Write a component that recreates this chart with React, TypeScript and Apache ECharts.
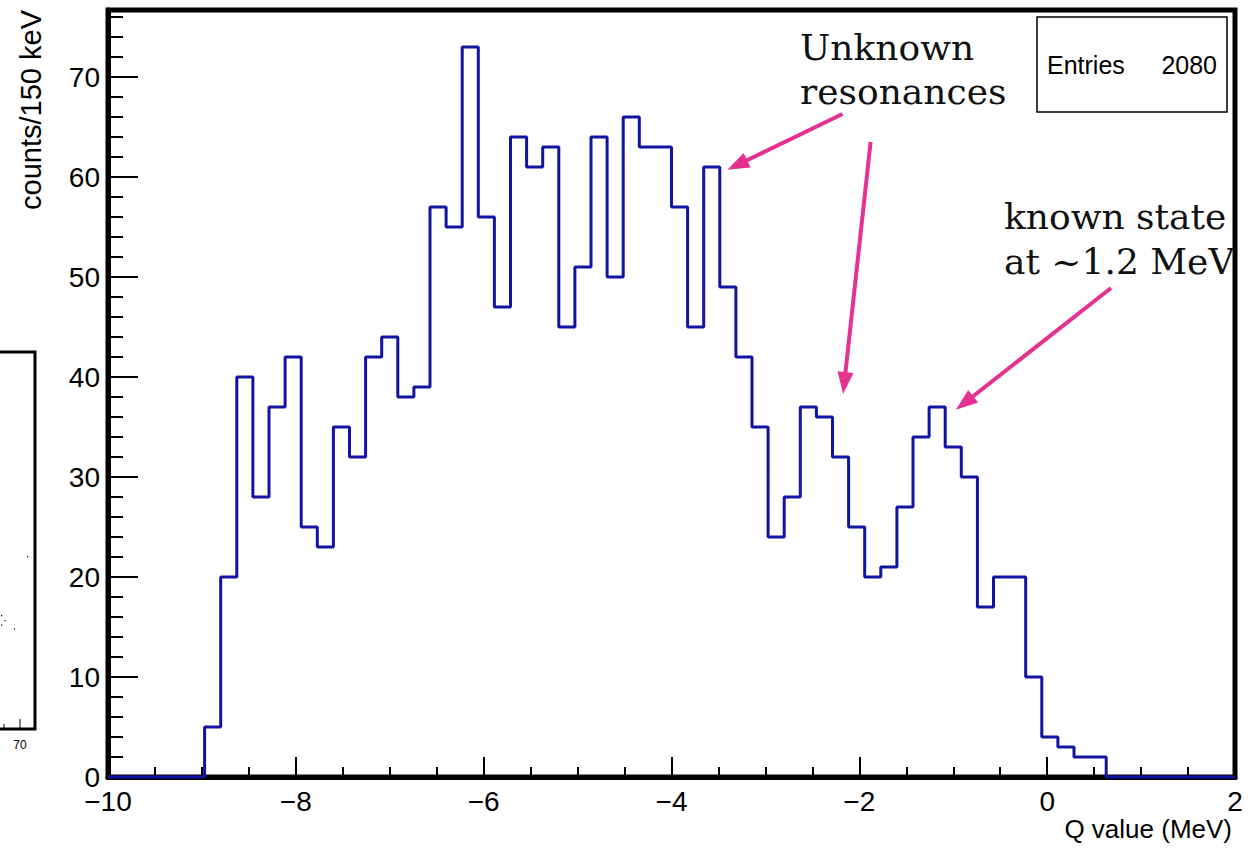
import React, { useEffect, useRef } from "react";
import * as echarts from "echarts";

// Histogram: 70 bins from -10 to 2 MeV
const X_MIN = -10;
const X_MAX = 2;
const N_BINS = 70;
const counts = [
  0, 0, 0, 0, 0, 0,
  5, 20, 40, 28, 37, 42, 25, 23, 35, 32, 42, 44, 38, 39,
  57, 55, 73, 56, 47, 64, 61, 63, 45, 51, 64, 50, 66, 63, 63, 57, 45, 61, 49, 42,
  35, 24, 28, 37, 36, 32, 25, 20, 21, 27, 34, 37, 33, 30, 17, 20, 20, 10, 4, 3, 2, 2,
  0, 0, 0, 0, 0, 0, 0, 0,
];
const entries = 2080;
const xTitle = "Q value (MeV)";
const yTitle = "counts/150 keV";

// annotation arrows in data coordinates: [tail, tip]
const arrows = [
  [[-2.18, 66.3], [-3.3, 61.2]],
  [[-1.88, 63.5], [-2.16, 39.4]],
  [[0.68, 48.9], [-0.88, 37.4]],
];

const MAGENTA = "#e5318f";
const FONT = "'Liberation Sans', Arial, Helvetica, sans-serif";
const SERIF = "'DejaVu Serif', serif";

export default function App() {
  const ref = useRef<HTMLDivElement>(null);
  useEffect(() => {
    if (!ref.current) return;
    const chart = echarts.init(ref.current, null, { renderer: "svg" });
    const binW = (X_MAX - X_MIN) / N_BINS;
    const pts: number[][] = counts.map((c, k) => [X_MIN + k * binW, c]);
    pts.push([X_MAX, counts[counts.length - 1]]);

    const fmt = (v: number) => (v < 0 ? "\u2212" + Math.abs(v) : String(v));

    const serifText = (text: string, x: number, y: number) => ({
      type: "text",
      x,
      y,
      style: { text, fill: "#111", font: `36px ${SERIF}`, textAlign: "left", textVerticalAlign: "top" },
    });

    chart.setOption({
      animation: false,
      backgroundColor: "#ffffff",
      grid: {
        left: 108,
        right: 16,
        top: 10,
        bottom: 71,
        show: true,
        borderColor: "#000",
        borderWidth: 5,
        backgroundColor: "transparent",
      },
      xAxis: {
        type: "value",
        min: X_MIN,
        max: X_MAX,
        interval: 2,
        axisLine: { show: true, onZero: false, lineStyle: { color: "#000", width: 5 } },
        axisTick: { show: true, inside: true, length: 20, lineStyle: { color: "#000", width: 2 } },
        minorTick: { show: true, splitNumber: 4, length: 10, lineStyle: { color: "#000", width: 2 } },
        splitLine: { show: false },
        minorSplitLine: { show: false },
        axisLabel: {
          formatter: fmt,
          color: "#000",
          fontFamily: FONT,
          fontSize: 28,
          lineHeight: 20,
          margin: 14,
        },
      },
      yAxis: [
        {
          type: "value",
          min: 0,
          max: 76.7,
          interval: 10,
          position: "left",
          axisLine: { show: true, onZero: false, lineStyle: { color: "#000", width: 5 } },
          axisTick: { show: true, inside: true, length: 30, lineStyle: { color: "#000", width: 2 } },
          splitLine: { show: false },
          axisLabel: {
            showMaxLabel: false,
            color: "#000",
            fontFamily: FONT,
            fontSize: 28,
            lineHeight: 20,
            margin: 8,
          },
        },
        {
          type: "value",
          min: 0,
          max: 76.7,
          interval: 2,
          position: "left",
          offset: 0,
          axisLine: { show: false, onZero: false },
          axisTick: { show: true, inside: true, length: 15, lineStyle: { color: "#000", width: 2 } },
          splitLine: { show: false },
          axisLabel: { show: false },
        },
      ],
      series: [
        {
          type: "line",
          step: "end",
          data: pts,
          yAxisIndex: 0,
          symbol: "none",
          lineStyle: { color: "#1212a4", width: 3 },
          clip: false,
          z: 3,
          markLine: {
            silent: true,
            symbol: ["none", "triangle"],
            symbolSize: [16, 22],
            label: { show: false },
            lineStyle: { color: MAGENTA, width: 4, type: "solid" },
            emphasis: { disabled: true },
            data: arrows.map(([a, b]) => [{ coord: a }, { coord: b }]),
          },
        },
      ],
      graphic: [
        {
          type: "text",
          x: 31,
          y: 10,
          rotation: Math.PI / 2,
          style: {
            text: yTitle,
            fill: "#000",
            font: `29px ${FONT}`,
            textAlign: "right",
            textVerticalAlign: "middle",
          },
        },
        {
          type: "text",
          x: 1232,
          y: 829,
          style: {
            text: xTitle,
            fill: "#000",
            font: `26px ${FONT}`,
            textAlign: "right",
            textVerticalAlign: "middle",
          },
        },
        {
          type: "rect",
          shape: { x: 1037, y: 17, width: 190, height: 95 },
          style: { fill: "#fff", stroke: "#000", lineWidth: 1.5 },
          z: 10,
        },
        {
          type: "text",
          x: 1047,
          y: 65,
          z: 11,
          style: { text: "Entries", fill: "#000", font: `25px ${FONT}`, textAlign: "left", textVerticalAlign: "middle" },
        },
        {
          type: "text",
          x: 1217,
          y: 65,
          z: 11,
          style: { text: String(entries), fill: "#000", font: `25px ${FONT}`, textAlign: "right", textVerticalAlign: "middle" },
        },
        serifText("Unknown", 800, 29),
        serifText("resonances", 800, 73),
        serifText("known state", 1004, 198),
        serifText("at ~1.2 MeV", 1004, 243),
        // cropped fragment of a neighbouring figure on the left edge
        {
          type: "polyline",
          shape: { points: [[0, 352], [35, 352], [35, 729], [0, 729]] },
          style: { stroke: "#000", lineWidth: 3, fill: "none" },
        },
        { type: "line", shape: { x1: 20, y1: 729, x2: 20, y2: 719 }, style: { stroke: "#000", lineWidth: 1 } },
        { type: "line", shape: { x1: 4, y1: 729, x2: 4, y2: 724 }, style: { stroke: "#000", lineWidth: 1 } },
        {
          type: "text",
          x: 20,
          y: 745,
          style: { text: "70", fill: "#000", font: `12px ${FONT}`, textAlign: "center", textVerticalAlign: "middle" },
        },
        { type: "rect", shape: { x: 27, y: 556, width: 1.2, height: 1.2 }, style: { fill: "#000" } },
        { type: "rect", shape: { x: 1, y: 615, width: 1.2, height: 1.2 }, style: { fill: "#000" } },
        { type: "rect", shape: { x: 4.5, y: 620, width: 1.2, height: 1.2 }, style: { fill: "#000" } },
        { type: "rect", shape: { x: 1, y: 624.5, width: 1.2, height: 1.2 }, style: { fill: "#000" } },
        { type: "rect", shape: { x: 14, y: 628.5, width: 1.2, height: 1.2 }, style: { fill: "#000" } },
      ],
    });
    return () => chart.dispose();
  }, []);
  return (
    <div
      ref={ref}
      style={{ position: "absolute", left: 0, top: 0, width: 1251, height: 848, background: "#fff" }}
    />
  );
}
